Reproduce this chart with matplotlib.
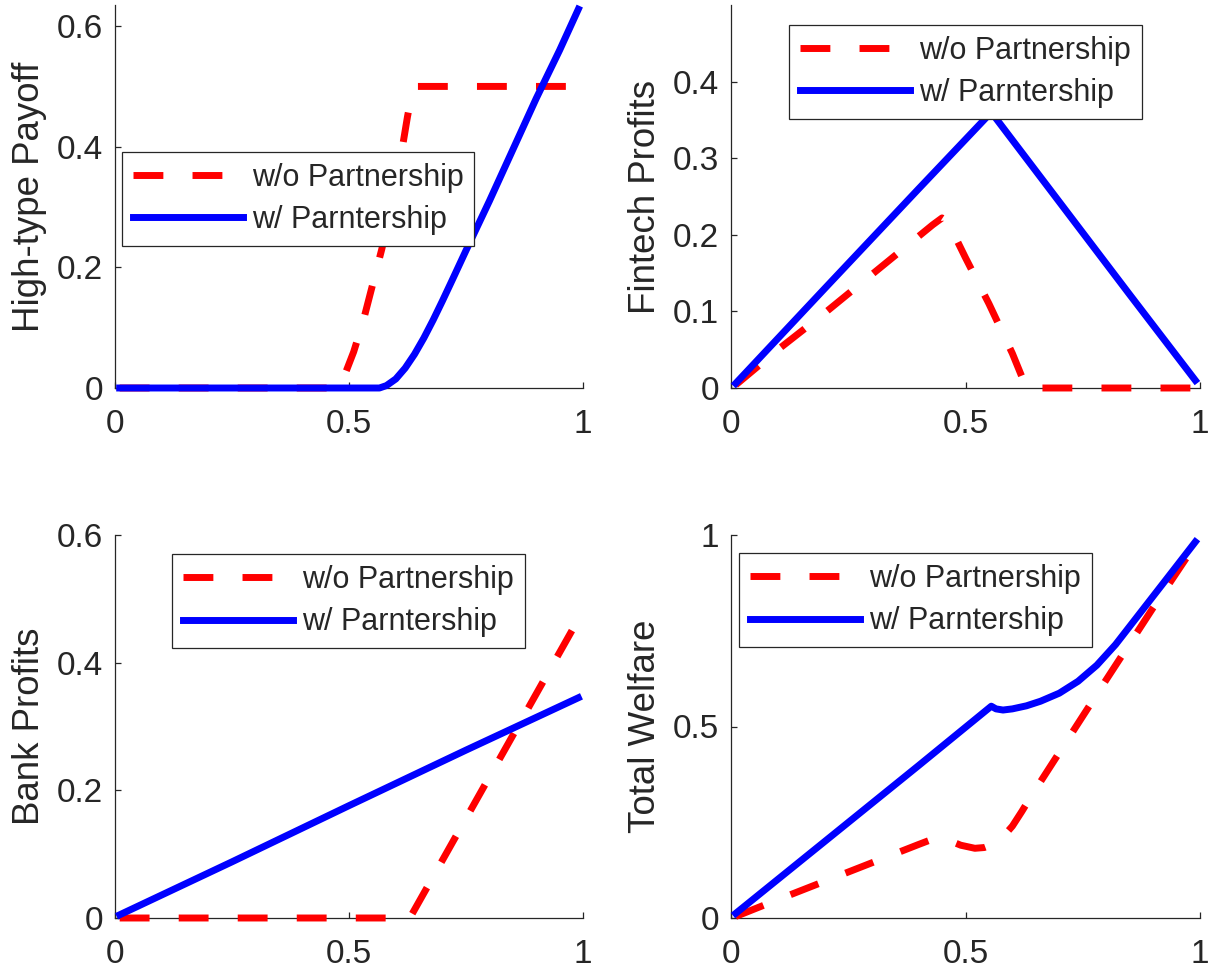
import matplotlib
matplotlib.use('Agg')
import matplotlib.pyplot as plt

plt.rcParams['font.family'] = ['Liberation Sans', 'DejaVu Sans']

# legend entries
labels = ['w/o Partnership', 'w/ Parntership']

# x axis ticks (shared)
x_ticks = [0, 0.5, 1]
x_tick_labels = ['0', '0.5', '1']

# High-type payoff
hp_x_without = [0.01, 0.1, 0.2, 0.3, 0.4, 0.47, 0.49, 0.51, 0.53, 0.55, 0.57, 0.59, 0.61,
                0.625, 0.635, 0.645, 0.7, 0.8, 0.9, 0.99]
hp_without = [0, 0, 0, 0, 0, 0, 0.02, 0.06, 0.11, 0.17, 0.23, 0.30, 0.38,
              0.45, 0.49, 0.5, 0.5, 0.5, 0.5, 0.5]
hp_x_with = [0.01, 0.1, 0.2, 0.3, 0.4, 0.5, 0.565, 0.58, 0.60, 0.62, 0.64, 0.66, 0.68,
             0.70, 0.72, 0.75, 0.80, 0.85, 0.90, 0.95, 0.99]
hp_with = [0, 0, 0, 0, 0, 0, 0, 0.004, 0.015, 0.033, 0.056, 0.083, 0.113,
           0.145, 0.178, 0.228, 0.31, 0.395, 0.48, 0.56, 0.628]

# Fintech profits
fp_x_without = [0.01, 0.1, 0.2, 0.3, 0.4, 0.43, 0.45, 0.46, 0.48, 0.5, 0.55, 0.6, 0.63,
                0.7, 0.8, 0.9, 0.99]
fp_without = [0.004, 0.05, 0.098, 0.148, 0.198, 0.213, 0.222, 0.218, 0.195, 0.17, 0.11,
              0.045, 0, 0, 0, 0, 0]
fp_x_with = [0.01, 0.2, 0.4, 0.555, 0.7, 0.85, 0.99]
fp_with = [0.006, 0.13, 0.26, 0.36, 0.243, 0.122, 0.01]

# Bank profits
bp_x_without = [0.01, 0.2, 0.4, 0.6, 0.63, 0.7, 0.8, 0.9, 0.99]
bp_without = [0, 0, 0, 0, 0, 0.091, 0.221, 0.351, 0.468]
bp_x_with = [0.01, 0.25, 0.5, 0.75, 0.99]
bp_with = [0.005, 0.088, 0.176, 0.263, 0.345]

# Total welfare
tw_x_without = [0.01, 0.1, 0.2, 0.3, 0.4, 0.43, 0.45, 0.47, 0.49, 0.52, 0.54, 0.56, 0.58,
                0.60, 0.62, 0.64, 0.67, 0.70, 0.8, 0.9, 0.99]
tw_without = [0.004, 0.048, 0.096, 0.144, 0.192, 0.206, 0.208, 0.2, 0.19, 0.182, 0.184,
              0.193, 0.212, 0.24, 0.278, 0.318, 0.375, 0.432, 0.622, 0.81, 0.975]
tw_x_with = [0.01, 0.2, 0.4, 0.555, 0.565, 0.58, 0.60, 0.63, 0.66, 0.70, 0.74, 0.78, 0.82,
             0.86, 0.90, 0.94, 0.99]
tw_with = [0.012, 0.2, 0.398, 0.553, 0.546, 0.543, 0.546, 0.554, 0.566, 0.587, 0.618,
           0.66, 0.714, 0.777, 0.84, 0.903, 0.982]

dark = '#262626'
W, H = 1211, 973


def px_axes(left, top, right, bottom):
    return [left / W, 1 - bottom / H, (right - left) / W, (bottom - top) / H]


fig = plt.figure(figsize=(W / 100, H / 100), dpi=100)

panels = [
    dict(pos=px_axes(115, 5, 583, 388), xw=hp_x_without, yw=hp_without, xp=hp_x_with, yp=hp_with,
         ylim=0.635, yticks=[0, 0.2, 0.4, 0.6], ylabels=['0', '0.2', '0.4', '0.6'],
         ylabel='High-type Payoff', leg=(0.014, 0.617)),
    dict(pos=px_axes(731, 5, 1200, 388), xw=fp_x_without, yw=fp_without, xp=fp_x_with, yp=fp_with,
         ylim=0.5, yticks=[0, 0.1, 0.2, 0.3, 0.4], ylabels=['0', '0.1', '0.2', '0.3', '0.4'],
         ylabel='Fintech Profits', leg=(0.124, 0.948)),
    dict(pos=px_axes(115, 535, 583, 918), xw=bp_x_without, yw=bp_without, xp=bp_x_with, yp=bp_with,
         ylim=0.6, yticks=[0, 0.2, 0.4, 0.6], ylabels=['0', '0.2', '0.4', '0.6'],
         ylabel='Bank Profits', leg=(0.122, 0.950)),
    dict(pos=px_axes(731, 535, 1200, 918), xw=tw_x_without, yw=tw_without, xp=tw_x_with, yp=tw_with,
         ylim=1.0, yticks=[0, 0.5, 1], ylabels=['0', '0.5', '1'],
         ylabel='Total Welfare', leg=(0.017, 0.953)),
]

for p in panels:
    ax = fig.add_axes(p['pos'])
    l1, = ax.plot(p['xw'], p['yw'], color='red', lw=5, dashes=(4.3, 4.2),
                  clip_on=False, zorder=3)
    l2, = ax.plot(p['xp'], p['yp'], color='blue', lw=5, clip_on=False, zorder=4)
    ax.set_xlim(0, 1)
    ax.set_ylim(0, p['ylim'])
    ax.set_xticks(x_ticks)
    ax.set_xticklabels(x_tick_labels)
    ax.set_yticks(p['yticks'])
    ax.set_yticklabels(p['ylabels'])
    for s in ['top', 'right']:
        ax.spines[s].set_visible(False)
    for s in ['left', 'bottom']:
        ax.spines[s].set_color(dark)
        ax.spines[s].set_linewidth(0.9)
    ax.tick_params(direction='in', length=4.5, width=0.9, colors=dark, labelsize=24)
    ax.tick_params(axis='x', pad=15)
    ax.tick_params(axis='y', pad=8.5)
    ax.set_ylabel(p['ylabel'], fontsize=26.4, color=dark)
    ax.yaxis.set_label_coords(-0.145, 0.5)
    leg = ax.legend([l1, l2], labels, loc='upper left', bbox_to_anchor=p['leg'],
                    fontsize=22, frameon=True, fancybox=False, framealpha=1,
                    edgecolor=dark, borderaxespad=0, borderpad=0.36, labelspacing=0.4,
                    handlelength=3.6, handletextpad=0.3)
    leg.get_frame().set_linewidth(0.9)
    for t in leg.get_texts():
        t.set_color(dark)

fig.savefig('out.png', dpi=100)
